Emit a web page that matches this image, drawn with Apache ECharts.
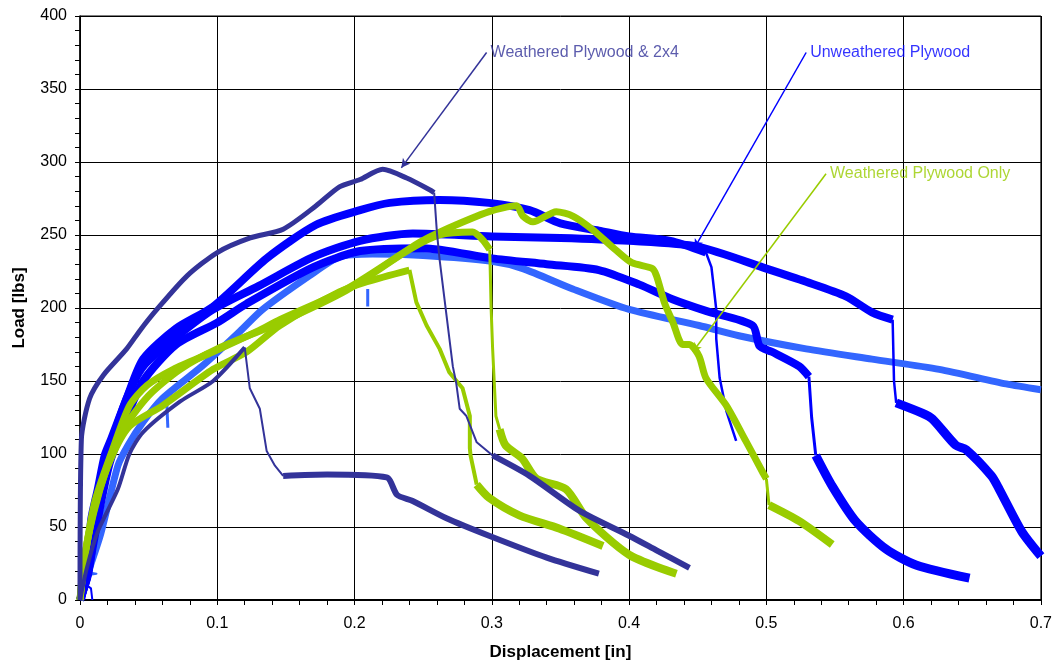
<!DOCTYPE html>
<html>
<head>
<meta charset="utf-8">
<script src="https://cdn.jsdelivr.net/npm/echarts@6/dist/echarts.min.js"></script>
<style>
html,body{margin:0;padding:0;background:#fff;}
#chart{width:1055px;height:666px;}
</style>
</head>
<body>
<div id="chart"></div>
<script>
// ---- Data (x = displacement [in], y = load [lbs]) ----
// Weathered Plywood & 2x4 (navy), test A
const navyARise = [[0,0],[0.001,110],[0.007,138],[0.017,154],[0.034,172],[0.044,185],[0.056,199],[0.078,222],[0.1,238],[0.124,248],[0.148,254],[0.172,270],[0.189,283],[0.204,288],[0.2205,295],[0.238,289],[0.2547,281],[0.258,279]];
const navyADrop = [[0.258,279],[0.26,252],[0.262,233],[0.267,195],[0.2716,160],[0.274,149],[0.2766,131],[0.2815,126],[0.289,108],[0.3006,99]];
const navyATail = [[0.3006,99],[0.3275,85],[0.364,61],[0.4,44],[0.42,34],[0.444,22]];
// Weathered Plywood & 2x4 (navy), test B
const navyBRise = [[0,0],[0.005,22],[0.013,47],[0.0276,76],[0.036,100],[0.046,115],[0.073,136],[0.097,150],[0.12,173]];
const navyBDrop = [[0.12,173],[0.1237,145],[0.131,131],[0.136,102],[0.142,92],[0.148,85]];
const navyBTail = [[0.148,85],[0.18,86],[0.2234,84],[0.231,72],[0.242,68],[0.267,56],[0.298,44],[0.34,29],[0.378,18]];
// Unweathered Plywood (blue)
const blueOrigin = [[0.003,0],[0.005,10],[0.008,8],[0.009,0]];
const blue1Rise = [[0,0],[0.006,20],[0.008,54],[0.013,76],[0.018,99],[0.0226,110],[0.034,138],[0.046,165],[0.07,186],[0.097,201],[0.136,234],[0.172,257],[0.204,267],[0.2256,272],[0.262,274],[0.298,272],[0.3275,267],[0.35,258],[0.378,253],[0.4,249],[0.43,246],[0.456,238]];
const blue1Drop = [[0.456,238],[0.46,228],[0.461,220],[0.4635,199],[0.4635,179],[0.466,152],[0.471,129],[0.478,109]];
const blue2Rise = [[0,0],[0.006,18],[0.01,45],[0.016,80],[0.022,104],[0.034,138],[0.046,160],[0.07,180],[0.097,199],[0.13,215],[0.17,235],[0.204,246],[0.2425,251],[0.3,249],[0.35,248],[0.4,246],[0.45,242],[0.5,227],[0.529,218],[0.558,208],[0.577,197],[0.592,192]];
const blue2Drop = [[0.592,192],[0.593,150],[0.5946,135]];
const blue2Tail = [[0.5946,135],[0.6135,128],[0.621,124],[0.638,106],[0.6455,103],[0.664,85],[0.6696,76],[0.686,47],[0.7,30]];
const blue3Rise = [[0,0],[0.005,15],[0.01,40],[0.016,70],[0.022,95],[0.034,125],[0.046,150],[0.07,175],[0.1,190],[0.1215,203],[0.17,228],[0.204,239],[0.25,241],[0.3,234],[0.34,230],[0.378,226],[0.4076,216],[0.4316,206],[0.456,198],[0.49,188],[0.495,174],[0.504,170],[0.524,160],[0.531,153]];
const blue3Drop = [[0.531,153],[0.533,125],[0.536,99]];
const blue3Tail = [[0.536,99],[0.548,78],[0.565,54],[0.587,35],[0.609,24],[0.648,15]];
// Light blue test
const lightSpike = [[0.005,17],[0.012,18],[0.006,19]];
const lightCurve = [[0,0],[0.006,19],[0.015,45],[0.0276,92],[0.035,106],[0.046,122],[0.06,138],[0.09,161],[0.1165,184],[0.133,199],[0.167,222],[0.189,235],[0.213,237],[0.25,236],[0.3,232],[0.3226,227],[0.359,213],[0.4,199],[0.451,188],[0.48,181],[0.529,172],[0.577,165],[0.626,158],[0.6747,148],[0.7,144]];
const lightDip1 = [[0.063,140],[0.064,118]];
const lightDip2 = [[0.2096,201],[0.2096,213]];
// Weathered Plywood Only (green)
const green1Rise = [[0,0],[0.0036,30],[0.011,65],[0.0226,97],[0.036,119],[0.06,133],[0.097,158],[0.1215,170],[0.1456,188],[0.189,211],[0.209,218],[0.24,226]];
const green1Drop = [[0.24,226],[0.245,204],[0.2525,188],[0.262,172],[0.269,156],[0.2787,145],[0.284,126],[0.284,104],[0.2845,99],[0.289,79]];
const green1Tail = [[0.289,79],[0.298,70],[0.32,58],[0.349,49],[0.381,37]];
const green2Rise = [[0,0],[0.004,32],[0.011,68],[0.0226,100],[0.036,133],[0.0488,147],[0.068,158],[0.097,170],[0.129,184],[0.1456,192],[0.194,213],[0.2475,245],[0.262,252],[0.298,266],[0.318,270],[0.3226,263],[0.33,259],[0.347,266],[0.359,263],[0.373,254],[0.39,240],[0.402,231],[0.417,227],[0.42,222],[0.426,203],[0.432,190],[0.439,175],[0.444,175],[0.451,167],[0.456,152],[0.471,133],[0.485,109],[0.497,88],[0.5,83]];
const green2Drop = [[0.5,83],[0.502,65]];
const green2Tail = [[0.502,65],[0.524,54],[0.548,38]];
const green3Rise = [[0,0],[0.003,28],[0.01,60],[0.02,92],[0.03,115],[0.05,140],[0.073,158],[0.1,172],[0.1456,190],[0.194,212],[0.24,240],[0.262,250],[0.286,252],[0.293,247],[0.2985,240]];
const green3Drop = [[0.2985,240],[0.2995,200],[0.3006,172],[0.303,126],[0.3057,117]];
const green3Tail = [[0.3057,117],[0.31,106],[0.322,97],[0.3326,83],[0.354,76],[0.369,56],[0.4,31],[0.4345,18]];
// Annotations: [label anchor], [arrow tip]
const annotationTexts = ['Weathered Plywood & 2x4','Unweathered Plywood','Weathered Plywood Only'];
const annotationAnchors = [[0.2962,375],[0.529,375],[0.5435,292]];
const annotationTips = [[0.2341,296],[0.4476,241],[0.4464,170]];

// ---- Styling ----
const C_NAVY = '#333399', C_BLUE = '#0000ff', C_LIGHT = '#3366ff', C_GREEN = '#99cc00';
const FONT = "'Liberation Sans', Arial, sans-serif";

function seg(data, color, width, smooth) {
  return {type:'line', data:data, showSymbol:false, symbol:'none', silent:true,
    smooth: smooth ? 0.25 : false,
    lineStyle:{color:color, width:width, join:'round', cap:'butt'}, animation:false};
}

const series = [
  seg(lightSpike, C_LIGHT, 2),
  seg(lightCurve, C_LIGHT, 7, true),
  seg(lightDip1, C_LIGHT, 3),
  seg(lightDip2, C_LIGHT, 3),
  seg(blueOrigin, C_BLUE, 2),
  seg(blue1Rise, C_BLUE, 8, true), seg(blue1Drop, C_BLUE, 2.5),
  seg(blue2Rise, C_BLUE, 8, true), seg(blue2Drop, C_BLUE, 2.5), seg(blue2Tail, C_BLUE, 9, true),
  seg(blue3Rise, C_BLUE, 8, true), seg(blue3Drop, C_BLUE, 3), seg(blue3Tail, C_BLUE, 9, true),
  seg(green1Rise, C_GREEN, 7, true), seg(green1Drop, C_GREEN, 4), seg(green1Tail, C_GREEN, 8, true),
  seg(green2Rise, C_GREEN, 7, true), seg(green2Drop, C_GREEN, 3), seg(green2Tail, C_GREEN, 8, true),
  seg(green3Rise, C_GREEN, 7, true), seg(green3Drop, C_GREEN, 3), seg(green3Tail, C_GREEN, 8, true),
  seg(navyBRise, C_NAVY, 4, true), seg(navyBDrop, C_NAVY, 2), seg(navyBTail, C_NAVY, 6, true),
  seg(navyARise, C_NAVY, 5, true), seg(navyADrop, C_NAVY, 2), seg(navyATail, C_NAVY, 6, true)
];

const annColors = [C_NAVY, C_BLUE, C_GREEN];
annotationTexts.forEach(function(t, i){
  series.push({
    type:'scatter', silent:true, animation:false, symbolSize:0,
    data:[annotationAnchors[i]],
    label:{show:true, position:'right', distance:4, formatter:t, color:annColors[i], fontSize:16, fontFamily:FONT},
    markLine:{silent:true, animation:false, symbol:['none','arrow'], symbolSize:[7,9],
      lineStyle:{color:annColors[i], width:1.5, type:'solid'}, label:{show:false},
      data:[[{coord:annotationAnchors[i]},{coord:annotationTips[i]}]]}
  });
});

const chart = echarts.init(document.getElementById('chart'), null, {renderer:'canvas'});
chart.setOption({
  animation:false,
  backgroundColor:'#fff',
  grid:{left:80, right:13, top:16, bottom:64, show:true, borderColor:'#000', borderWidth:1},
  xAxis:{type:'value', min:0, max:0.7, interval:0.1,
    name:'Displacement [in]', nameLocation:'middle', nameGap:44,
    nameTextStyle:{fontSize:17, fontWeight:'bold', color:'#000', fontFamily:FONT},
    axisLine:{show:true, onZero:false, lineStyle:{color:'#000', width:2}},
    axisTick:{show:true, inside:false, length:5, lineStyle:{color:'#000'}},
    minorTick:{show:true, splitNumber:5, length:5, lineStyle:{color:'#000'}},
    splitLine:{show:true, lineStyle:{color:'#000', width:1}},
    axisLabel:{fontSize:16, color:'#000', margin:16, fontFamily:FONT,
      formatter:function(v){return v===0?'0':String(Math.round(v*10)/10);}}
  },
  yAxis:{type:'value', min:0, max:400, interval:50,
    name:'Load [lbs]', nameLocation:'middle', nameGap:52,
    nameTextStyle:{fontSize:17, fontWeight:'bold', color:'#000', fontFamily:FONT},
    axisLine:{show:true, onZero:false, lineStyle:{color:'#000', width:1.5}},
    axisTick:{show:true, inside:false, length:5, lineStyle:{color:'#000'}},
    minorTick:{show:true, splitNumber:5, length:5, lineStyle:{color:'#000'}},
    splitLine:{show:true, lineStyle:{color:'#000', width:1}},
    axisLabel:{fontSize:16, color:'#000', margin:13, fontFamily:FONT}
  },
  series:series
});
</script>
</body>
</html>
